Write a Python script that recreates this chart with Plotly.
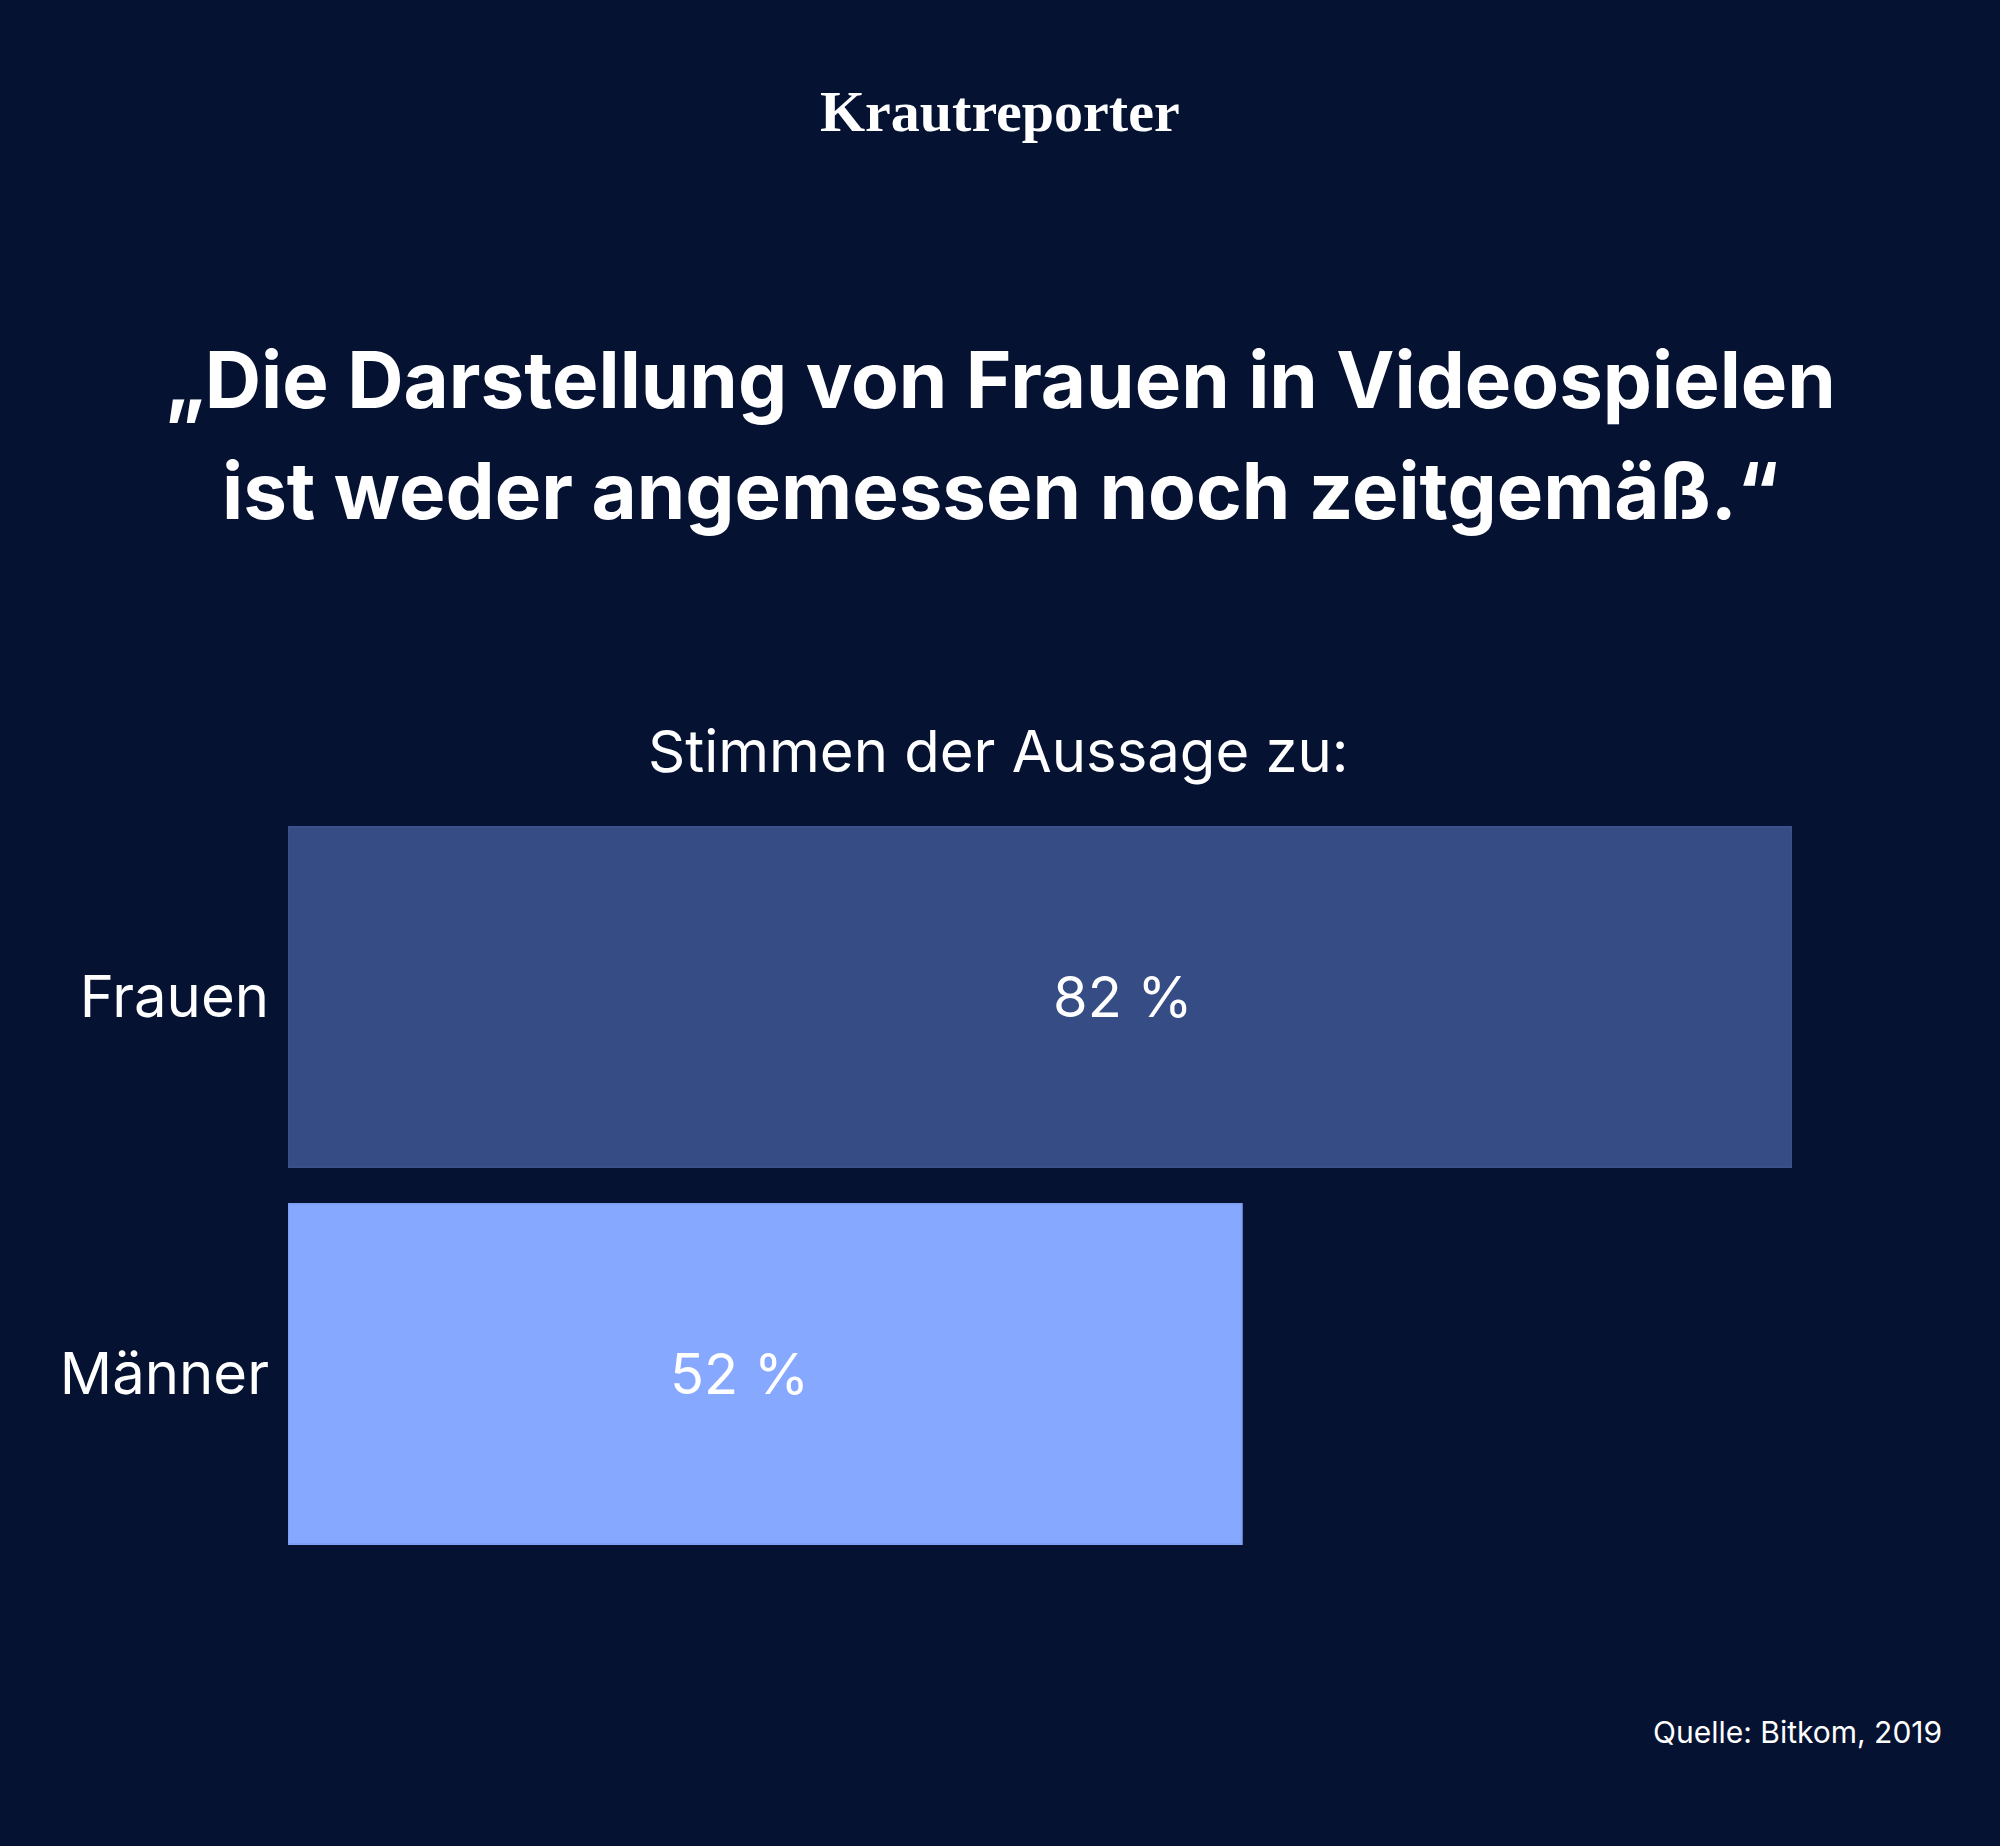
import plotly.graph_objects as go

# Data
categories = ["Frauen", "Männer"]
values = [82, 52]
value_labels = ["82 %", "52 %"]
bar_colors = ["#364C84", "#86A8FE"]
bar_edge_colors = ["#3A5289", "#7E9FF2"]
label_x = [45.5, 24.6]  # label anchor positions along the value axis

title_lines = ["„Die Darstellung von Frauen in Videospielen",
               "ist weder angemessen noch zeitgemäß.“"]
subtitle = "Stimmen der Aussage zu:"
brand = "Krautreporter"
source = "Quelle: Bitkom, 2019"

BG = "#051232"
W, H = 2000, 1846
SANS = "Inter, 'Open Sans', sans-serif"

fig = go.Figure()
fig.add_trace(go.Bar(
    x=values, y=categories, orientation="h",
    marker=dict(color=bar_colors, line=dict(color=bar_edge_colors, width=2)),
    hoverinfo="skip", showlegend=False,
))

annotations = []
for cat, lx, lab in zip(categories, label_x, value_labels):
    annotations.append(dict(x=lx, y=cat, xref="x", yref="y", text=lab,
                            showarrow=False, xanchor="center", yanchor="middle",
                            font=dict(family=SANS, size=56, color="white")))

def py(px):
    return 1 - px / H

annotations += [
    dict(x=0.5, y=py(111), xref="paper", yref="paper", text=brand, showarrow=False,
         xanchor="center", yanchor="middle",
         font=dict(family="'Liberation Serif', serif", size=58, color="white", weight=700)),
    dict(x=0.5, y=py(379), xref="paper", yref="paper", text=title_lines[0], showarrow=False,
         xanchor="center", yanchor="middle",
         font=dict(family=SANS, size=78, color="white", weight=700)),
    dict(x=0.5, y=py(490), xref="paper", yref="paper", text=title_lines[1], showarrow=False,
         xanchor="center", yanchor="middle",
         font=dict(family=SANS, size=78, color="white", weight=700)),
    dict(x=0.499, y=py(751), xref="paper", yref="paper", text=subtitle, showarrow=False,
         xanchor="center", yanchor="middle",
         font=dict(family=SANS, size=58, color="white")),
    dict(x=1944 / W, y=py(1732), xref="paper", yref="paper", text=source, showarrow=False,
         xanchor="right", yanchor="middle",
         font=dict(family=SANS, size=30, color="white")),
]

fig.update_layout(
    width=W, height=H, autosize=False,
    margin=dict(l=0, r=0, t=0, b=0),
    paper_bgcolor=BG, plot_bgcolor=BG,
    bargap=0.098,
    xaxis=dict(domain=[288 / W, 1792 / W], range=[0, 82], visible=False, fixedrange=True),
    yaxis=dict(domain=[1 - 1562.5 / H, 1 - 808.5 / H], autorange="reversed",
               showgrid=False, zeroline=False, showline=False, ticks="",
               ticklabelstandoff=18,
               tickfont=dict(family=SANS, size=58, color="white"), fixedrange=True),
    annotations=annotations,
)

fig.write_html("out.html", config={"displayModeBar": False},
               post_script="document.body.style.margin='0';document.body.style.background='%s';" % BG)
